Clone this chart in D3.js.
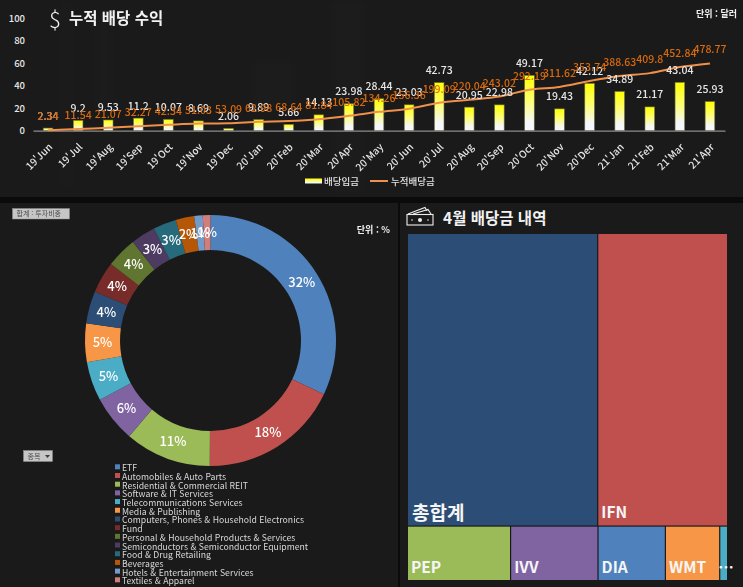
<!DOCTYPE html>
<html lang="ko">
<head>
<meta charset="utf-8">
<script src="https://cdn.jsdelivr.net/npm/d3@7"></script>
<style>
html,body{margin:0;padding:0;background:#0b0b0b;}
svg{display:block;}
text{font-family:"Noto Sans CJK KR","Noto Sans",sans-serif;}
</style>
</head>
<body>
<svg id="chart" width="743" height="587"></svg>
<script>
// Monthly dividend income
const months = ["19'Jun","19'Jul","19'Aug","19'Sep","19'Oct","19'Nov","19'Dec","20'Jan","20'Feb","20'Mar","20'Apr","20'May","20'Jun","20'Jul","20'Aug","20'Sep","20'Oct","20'Nov","20'Dec","21'Jan","21'Feb","21'Mar","21'Apr"];
const dividends = [2.34,9.2,9.53,11.2,10.07,8.69,2.06,9.89,5.66,14.13,23.98,28.44,23.03,42.73,20.95,22.98,49.17,19.43,42.12,34.89,21.17,43.04,25.93];
const cumulative = [2.34,11.54,21.07,32.27,42.34,51.03,53.09,62.98,68.64,81.84,105.82,134.26,156.36,199.09,220.04,243.02,292.19,311.62,353.74,388.63,409.8,452.84,478.77];
const leftTicks = [0,20,40,60,80,100];

// Portfolio weight by sector
const sectors = ["ETF","Automobiles & Auto Parts","Residential & Commercial REIT","Software & IT Services","Telecommunications Services","Media & Publishing","Computers, Phones & Household Electronics","Fund","Personal & Household Products & Services","Semiconductors & Semiconductor Equipment","Food & Drug Retailing","Beverages","Hotels & Entertainment Services","Textiles & Apparel"];
const weights = [32.3,18.2,11.2,6.0,5.1,5.0,4.2,4.1,4.0,3.2,3.0,2.4,1.1,1.0];
const sectorColors = ["#4f81bd","#c0504d","#9bbb59","#8064a2","#4bacc6","#f79646","#2c4d75","#772c2a","#5f7530","#4d3b62","#276a7c","#b65708","#729aca","#d07e7c"];

// April dividend breakdown, laid out in two rows
const aprilTop = ["총합계","IFN"];
const aprilTopValues = [25.93,17.7];
const aprilTopColors = ["#2c4d75","#c0504d"];
const aprilBottom = ["PEP","IVV","DIA","WMT","…"];
const aprilBottomValues = [2.62,2.22,1.71,1.38,0.2];
const aprilBottomColors = ["#9bbb59","#8064a2","#4f81bd","#f79646","#4bacc6"];

const svg = d3.select("#chart");
const defs = svg.append("defs");

const barGrad = defs.append("linearGradient").attr("id","barFill").attr("x1",0).attr("y1",0).attr("x2",0).attr("y2",1);
barGrad.append("stop").attr("offset","0%").attr("stop-color","#ffff00");
barGrad.append("stop").attr("offset","45%").attr("stop-color","#fdfd70");
barGrad.append("stop").attr("offset","85%").attr("stop-color","#f4f7fd");
barGrad.append("stop").attr("offset","100%").attr("stop-color","#f4f7fd");
defs.append("filter").attr("id","soft").append("feGaussianBlur").attr("stdDeviation",6);

// Panels
const panels = [[0,0,743,197],[0,203,398,384],[400,203,343,384]];
svg.selectAll("rect.panel").data(panels).join("rect").attr("class","panel")
  .attr("x",d=>d[0]).attr("y",d=>d[1]).attr("width",d=>d[2]).attr("height",d=>d[3]).attr("fill","#1a1a1a");

// Faint streaks behind the top panel
const streaks = [[60,0,14,190],[95,10,18,110],[250,60,46,50],[330,0,36,197]];
svg.append("g").attr("filter","url(#soft)").selectAll("rect").data(streaks).join("rect")
  .attr("x",d=>d[0]).attr("y",d=>d[1]).attr("width",d=>d[2]).attr("height",d=>d[3]).attr("fill","#ffffff").attr("opacity",0.012);

/* ---------- Cumulative dividend combo chart ---------- */
const x = d3.scaleBand().domain(months).range([33,725]).paddingInner(0.68).paddingOuter(0.34);
const y = d3.scaleLinear().domain([0,100]).range([130.7,18.3]);
const y2 = d3.scaleLinear().domain([0,800]).range([130.7,18.3]);
const cx = m => x(m)+x.bandwidth()/2;

const yAxis = svg.append("g").attr("transform","translate(30,0)")
  .call(d3.axisLeft(y).tickValues(leftTicks).tickSize(0).tickPadding(5));
yAxis.select(".domain").remove();
yAxis.selectAll("text").attr("fill","#e8e8e8").attr("font-size",9.5).attr("font-weight",500);

const xAxis = svg.append("g").attr("transform","translate(0,130.7)")
  .call(d3.axisBottom(x).tickSize(0).tickPadding(0));
xAxis.select(".domain").attr("stroke","#8c8c8c").attr("stroke-width",1.2);
xAxis.selectAll("text").attr("fill","#e4e4e4").attr("font-size",10).attr("font-weight",500)
  .attr("text-anchor","end").attr("dy",0).attr("transform","translate(5,17) rotate(-45)");

svg.append("g").selectAll("rect").data(months).join("rect")
  .attr("x",m=>x(m)).attr("width",x.bandwidth())
  .attr("y",(m,i)=>y(dividends[i])).attr("height",(m,i)=>y(0)-y(dividends[i]))
  .attr("fill","url(#barFill)").attr("stroke","#6e6e45").attr("stroke-width",0.6);

const line = d3.line().x(d=>cx(d.m)).y(d=>y2(d.v)).curve(d3.curveCatmullRom.alpha(0.5));
const points = months.map((m,i)=>({m,v:cumulative[i]}));
svg.append("path").datum(points).attr("d",line).attr("fill","none").attr("stroke","#f0904a").attr("stroke-width",2);

svg.append("g").selectAll("text").data(months).join("text")
  .attr("x",cx).attr("y",(m,i)=>y(dividends[i])-8.5).attr("text-anchor","middle")
  .attr("fill","#e6e6e6").attr("font-size",10.5).attr("font-weight",500)
  .text((m,i)=>dividends[i]);
svg.append("g").selectAll("text").data(points).join("text")
  .attr("x",d=>cx(d.m)).attr("y",d=>y2(d.v)-10).attr("text-anchor","middle")
  .attr("fill","#d9690e").attr("font-size",10.5).attr("font-weight",500)
  .text(d=>d.v);

// Header and legend
svg.append("text").attr("x",49).attr("y",27.5).attr("fill","#f2f2f2").attr("font-size",22).attr("font-weight",300).attr("font-family","Open Sans").text("$");
svg.append("text").attr("x",69).attr("y",23.5).attr("fill","#f2f2f2").attr("font-size",15.5).attr("font-weight",700).text("누적 배당 수익");
svg.append("text").attr("x",737).attr("y",17).attr("text-anchor","end").attr("fill","#f0f0f0").attr("font-size",9).attr("font-weight",700).text("단위 : 달러");
svg.append("rect").attr("x",305).attr("y",178.5).attr("width",17).attr("height",5).attr("fill","url(#barFill)");
svg.append("text").attr("x",324).attr("y",185).attr("fill","#e4e4e4").attr("font-size",9.5).attr("font-weight",500).text("배당입금");
svg.append("line").attr("x1",370).attr("x2",388).attr("y1",181).attr("y2",181).attr("stroke","#f0904a").attr("stroke-width",2);
svg.append("text").attr("x",391).attr("y",185).attr("fill","#e4e4e4").attr("font-size",9.5).attr("font-weight",500).text("누적배당금");

/* ---------- Sector donut ---------- */
const pie = d3.pie().value(d=>d.w).sort(null);
const arc = d3.arc().innerRadius(90.5).outerRadius(125.5);
const sectorData = sectors.map((s,i)=>({s,w:weights[i],c:sectorColors[i]}));
const donut = svg.append("g").attr("transform","translate(210.5,340.5)");
donut.selectAll("path").data(pie(sectorData)).join("path").attr("d",arc).attr("fill",d=>d.data.c);
donut.selectAll("text").data(pie(sectorData)).join("text")
  .attr("transform",d=>`translate(${arc.centroid(d)})`)
  .attr("text-anchor","middle").attr("dy","0.36em")
  .attr("fill","#ffffff").attr("font-size",13).attr("font-weight",500)
  .text(d=>Math.round(d.data.w)+"%");

svg.append("text").attr("x",390).attr("y",233).attr("text-anchor","end").attr("fill","#f0f0f0").attr("font-size",9).attr("font-weight",700).text("단위 : %");

// Field buttons
function fieldButton(bx,by,w,h,label){
  svg.append("rect").attr("x",bx).attr("y",by).attr("width",w).attr("height",h).attr("fill","#c6c6c6").attr("stroke","#8e8e8e").attr("stroke-width",0.5);
  svg.append("text").attr("x",bx+4).attr("y",by+h-3).attr("fill","#4a4a4a").attr("font-size",7).text(label);
}
fieldButton(12.5,208.5,57,10.5,"합계 : 투자비중");
fieldButton(23.5,450.5,29,11,"종목");
svg.append("path").attr("d","M45,455 h5 l-2.5,3 z").attr("fill","#3c3c3c");

const legendY = d3.scalePoint().domain(sectors).range([468.3,581.3]);
const legend = svg.append("g").selectAll("g").data(sectorData).join("g")
  .attr("transform",d=>`translate(115,${legendY(d.s)})`);
legend.append("rect").attr("y",-4).attr("width",5).attr("height",5).attr("fill",d=>d.c);
legend.append("text").attr("x",7).attr("y",3).attr("fill","#d8d8d8").attr("font-size",8.7).text(d=>d.s);

/* ---------- April treemap ---------- */
svg.append("text").attr("x",443).attr("y",224).attr("fill","#f2f2f2").attr("font-size",15.5).attr("font-weight",700).text("4월 배당금 내역");
const icon = svg.append("g").attr("fill","none").attr("stroke","#eeeeee").attr("stroke-width",1.1);
icon.append("rect").attr("x",407).attr("y",214.5).attr("width",26).attr("height",10.5);
icon.append("path").attr("d","M408,214 L425,207.5 L427,211 M413,214 L428,209.5 L431,214");
svg.append("circle").attr("cx",420).attr("cy",220).attr("r",2).attr("fill","#eeeeee");
svg.append("circle").attr("cx",412).attr("cy",220).attr("r",0.8).attr("fill","#eeeeee");
svg.append("circle").attr("cx",428).attr("cy",220).attr("r",0.8).attr("fill","#eeeeee");

const treeRoot = d3.hierarchy({children:[
  {children:aprilTop.map((n,i)=>({n,v:aprilTopValues[i],c:aprilTopColors[i]}))},
  {children:aprilBottom.map((n,i)=>({n,v:aprilBottomValues[i],c:aprilBottomColors[i]}))}
]}).sum(d=>d.v||0);
d3.treemap().size([319,346]).paddingInner(1.2)
  .tile((node,a,b,c,e)=>(node.depth===0?d3.treemapSlice:d3.treemapDice)(node,a,b,c,e))(treeRoot);
const tiles = svg.append("g").attr("transform","translate(408,234)").selectAll("g").data(treeRoot.leaves()).join("g")
  .attr("transform",d=>`translate(${d.x0},${d.y0})`);
tiles.append("rect").attr("width",d=>d.x1-d.x0).attr("height",d=>d.y1-d.y0).attr("fill",d=>d.data.c);
tiles.append("text")
  .attr("x",d=>d.data.n==="…"?-2:(d.data.n==="총합계"?4:3))
  .attr("y",d=>d.y1-d.y0-(d.data.n==="총합계"?5:7))
  .attr("fill","#f6f6f6").attr("font-weight",700)
  .attr("font-size",d=>d.data.n==="총합계"?19:15.5)
  .text(d=>d.data.n);
</script>
</body>
</html>
